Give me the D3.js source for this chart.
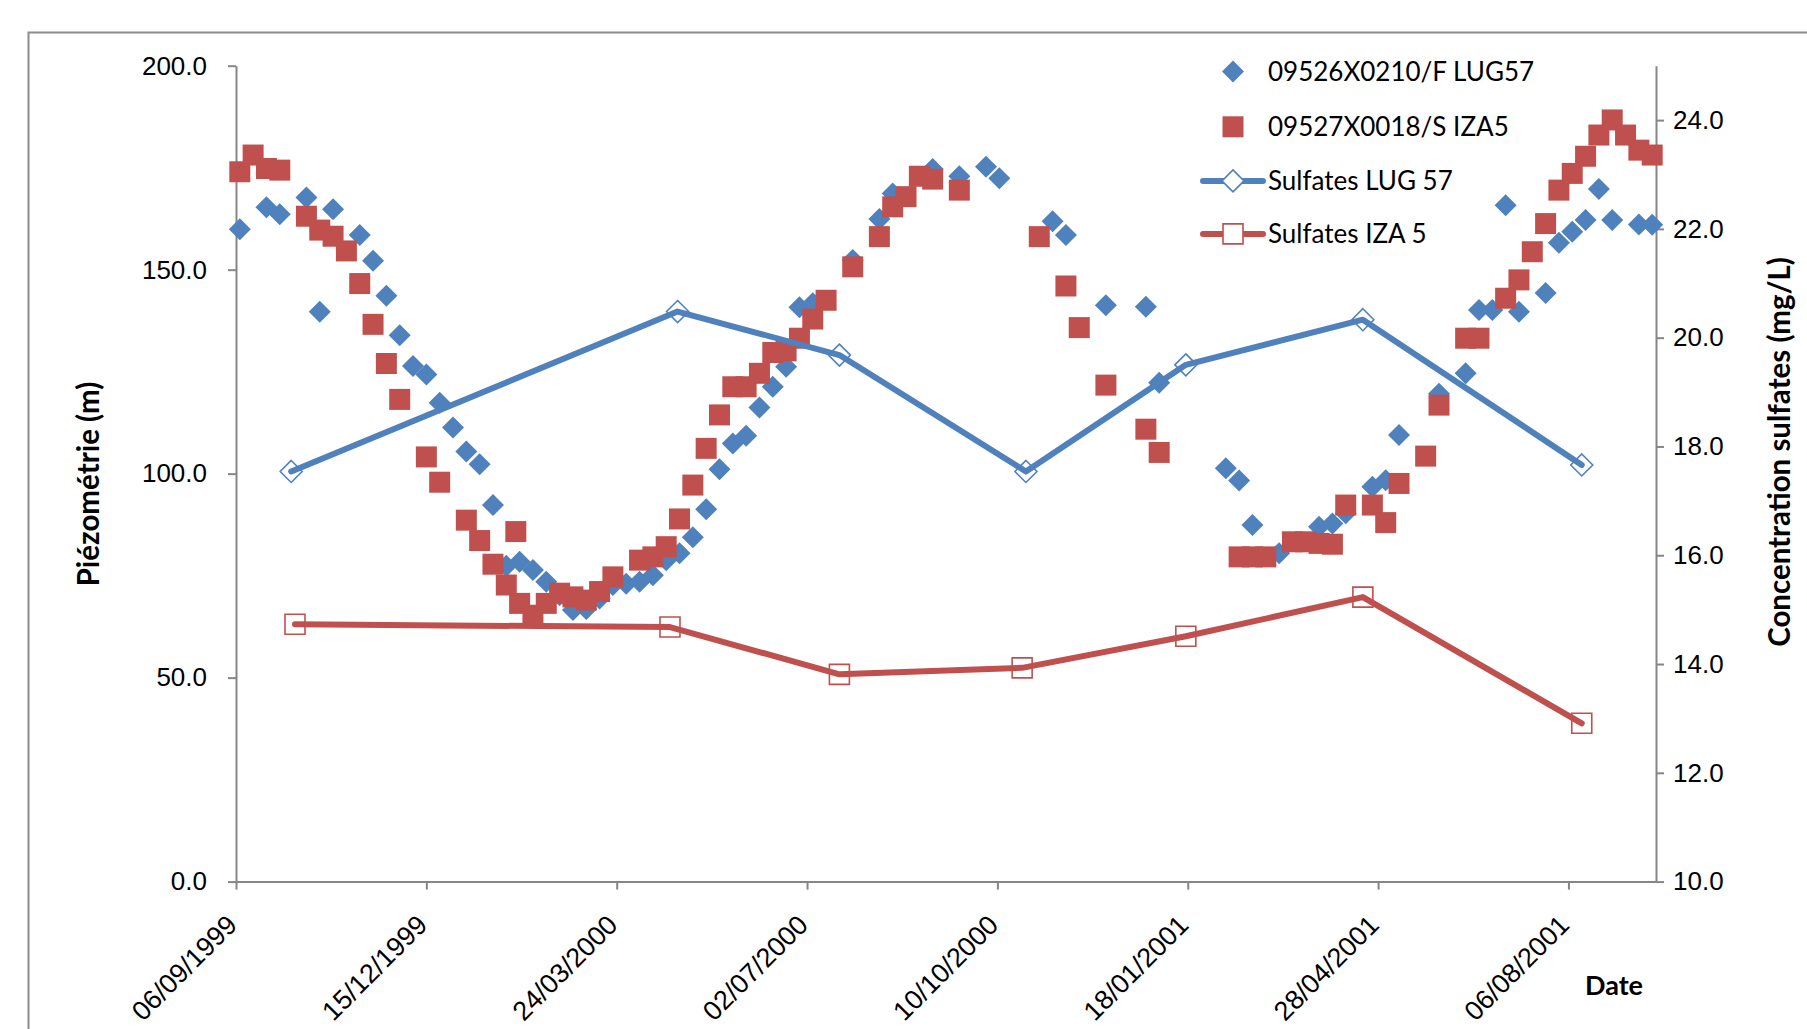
<!DOCTYPE html>
<html>
<head>
<meta charset="utf-8">
<script src="https://cdn.jsdelivr.net/npm/d3@7"></script>
<style>
  html, body { margin: 0; padding: 0; background: #ffffff; }
  svg { display: block; font-family: Lato, "Open Sans", "DejaVu Sans", sans-serif; }
</style>
</head>
<body>
<svg id="chart" width="1807" height="1029"></svg>
<script>
// ---- Weekly piezometric levels (m), well 09526X0210/F LUG57 ----
const lugDates = [
  "08/09/1999","22/09/1999","29/09/1999","13/10/1999","20/10/1999","27/10/1999",
  "10/11/1999","17/11/1999","24/11/1999","01/12/1999","08/12/1999","15/12/1999",
  "22/12/1999","29/12/1999","05/01/2000","12/01/2000","19/01/2000","26/01/2000",
  "02/02/2000","09/02/2000","16/02/2000","23/02/2000","01/03/2000","08/03/2000",
  "15/03/2000","22/03/2000","29/03/2000","05/04/2000","12/04/2000","19/04/2000",
  "26/04/2000","03/05/2000","10/05/2000","17/05/2000","24/05/2000","31/05/2000",
  "07/06/2000","14/06/2000","21/06/2000","28/06/2000","05/07/2000","26/07/2000",
  "09/08/2000","16/08/2000","06/09/2000","20/09/2000","04/10/2000","11/10/2000",
  "08/11/2000","15/11/2000","06/12/2000","27/12/2000","03/01/2001","07/02/2001",
  "14/02/2001","21/02/2001","07/03/2001","28/03/2001","04/04/2001","11/04/2001",
  "25/04/2001","02/05/2001","09/05/2001","30/05/2001","13/06/2001","20/06/2001",
  "27/06/2001","04/07/2001","11/07/2001","25/07/2001","01/08/2001","08/08/2001",
  "15/08/2001","22/08/2001","29/08/2001","12/09/2001","19/09/2001"
];
const lugLevels = [
  159.9, 165.3, 163.6, 167.7, 139.7, 164.8,
  158.5, 152.2, 143.6, 133.9, 126.4, 124.3,
  117.4, 111.3, 105.4, 102.3, 92.3, 77.4,
  78.4, 76.4, 73.5, 70.2, 66.6, 66.8,
  69.4, 72.7, 73.0, 73.5, 75.1, 78.8,
  80.5, 84.4, 91.3, 101.1, 107.4, 109.3,
  116.2, 121.3, 126.2, 140.8, 141.8, 152.4,
  162.4, 168.7, 174.7, 172.9, 175.2, 172.4,
  161.9, 158.5, 141.3, 140.9, 122.3, 101.3,
  98.3, 87.4, 80.5, 87.0, 87.8, 90.3,
  96.8, 98.4, 109.5, 119.6, 124.6, 140.1,
  140.1, 165.8, 139.7, 144.3, 156.6, 159.3,
  162.2, 169.8, 162.2, 161.1, 161.0
];

// ---- Weekly piezometric levels (m), well 09527X0018/S IZA5 ----
const izaDates = [
  "08/09/1999","15/09/1999","22/09/1999","29/09/1999","13/10/1999","20/10/1999",
  "27/10/1999","03/11/1999","10/11/1999","17/11/1999","24/11/1999","01/12/1999",
  "15/12/1999","22/12/1999","05/01/2000","12/01/2000","19/01/2000","26/01/2000",
  "31/01/2000","02/02/2000","09/02/2000","16/02/2000","23/02/2000","01/03/2000",
  "08/03/2000","15/03/2000","22/03/2000","05/04/2000","12/04/2000","19/04/2000",
  "26/04/2000","03/05/2000","10/05/2000","17/05/2000","24/05/2000","31/05/2000",
  "07/06/2000","14/06/2000","21/06/2000","28/06/2000","05/07/2000","12/07/2000",
  "26/07/2000","09/08/2000","16/08/2000","23/08/2000","30/08/2000","06/09/2000",
  "20/09/2000","01/11/2000","15/11/2000","22/11/2000","06/12/2000","27/12/2000",
  "03/01/2001","14/02/2001","21/02/2001","28/02/2001","14/03/2001","21/03/2001",
  "28/03/2001","04/04/2001","11/04/2001","25/04/2001","02/05/2001","09/05/2001",
  "23/05/2001","30/05/2001","13/06/2001","20/06/2001","04/07/2001","11/07/2001",
  "18/07/2001","25/07/2001","01/08/2001","08/08/2001","15/08/2001","22/08/2001",
  "29/08/2001","05/09/2001","12/09/2001","19/09/2001"
];
const izaLevels = [
  174.0, 178.1, 174.8, 174.4, 163.1, 159.7,
  158.2, 154.6, 146.6, 136.6, 127.0, 118.2,
  104.1, 97.9, 88.6, 83.6, 77.8, 72.7,
  85.8, 68.2, 65.3, 68.2, 70.7, 69.8,
  69.0, 71.1, 74.7, 78.8, 79.6, 82.1,
  88.9, 97.2, 106.2, 114.4, 121.3, 121.3,
  124.6, 129.7, 130.1, 133.2, 137.9, 142.5,
  150.7, 158.1, 165.4, 167.9, 172.9, 172.2,
  169.5, 158.1, 146.0, 135.8, 121.7, 110.9,
  105.2, 79.6, 79.6, 79.6, 83.3, 83.3,
  82.9, 82.7, 92.3, 92.3, 88.0, 97.6,
  104.3, 116.8, 133.2, 133.2, 143.0, 147.5,
  154.4, 161.3, 169.5, 173.6, 177.8, 183.0,
  186.7, 183.0, 179.3, 178.1
];

// ---- Sulfate concentrations (mg/L) ----
const sulfLugDates  = ["05/10/1999","25/04/2000","19/07/2000","25/10/2000","17/01/2001","20/04/2001","13/08/2001"];
const sulfLugValues = [17.54, 20.48, 19.68, 17.54, 19.50, 20.33, 17.66];
const sulfIzaDates  = ["07/10/1999","21/04/2000","19/07/2000","23/10/2000","17/01/2001","20/04/2001","13/08/2001"];
const sulfIzaValues = [14.73, 14.68, 13.81, 13.93, 14.51, 15.23, 12.91];

// ---- Axes ----
const xDomain     = ["06/09/1999", "21/09/2001"];
const xTickLabels = ["06/09/1999","15/12/1999","24/03/2000","02/07/2000","10/10/2000","18/01/2001","28/04/2001","06/08/2001"];
const yLeftDomain  = [0, 200];
const yLeftTicks   = [0, 50, 100, 150, 200];
const yRightDomain = [10, 25];
const yRightTicks  = [10, 12, 14, 16, 18, 20, 22, 24];

const seriesNames = ["09526X0210/F LUG57", "09527X0018/S IZA5", "Sulfates LUG 57", "Sulfates IZA 5"];
const axisTitles  = { left: "Piézométrie (m)", right: "Concentration sulfates (mg/L)", bottom: "Date" };

// ---- Drawing ----
const BLUE = "#4F81BD", RED = "#C0504D", AXIS = "#868686";
const FONT = 26;
const plot = { left: 236, right: 1656, top: 65.7, bottom: 881.6 };

const parse = d3.utcParse("%d/%m/%Y");
const x  = d3.scaleUtc().domain(xDomain.map(parse)).range([plot.left, plot.right]);
const yL = d3.scaleLinear().domain(yLeftDomain).range([plot.bottom, plot.top]);
const yR = d3.scaleLinear().domain(yRightDomain).range([plot.bottom, plot.top]);

const svg = d3.select("#chart");

// chart frame
svg.append("rect")
  .attr("x", 28.5).attr("y", 32.5)
  .attr("width", 1900).attr("height", 1100)
  .attr("fill", "none").attr("stroke", "#8c8c8c").attr("stroke-width", 2);

const fmt1 = d3.format(".1f");

function styleAxis(g) {
  g.select(".domain").attr("stroke", AXIS).attr("stroke-width", 2);
  g.selectAll(".tick line").attr("stroke", AXIS).attr("stroke-width", 2);
  g.selectAll(".tick text").attr("fill", "#000").style("font-size", FONT + "px");
}

// left axis
svg.append("g")
  .attr("transform", `translate(${plot.left},0)`)
  .call(d3.axisLeft(yL).tickValues(yLeftTicks).tickFormat(fmt1).tickSize(8).tickSizeOuter(0).tickPadding(21))
  .call(styleAxis);

// right axis
svg.append("g")
  .attr("transform", `translate(${plot.right},0)`)
  .call(d3.axisRight(yR).tickValues(yRightTicks).tickFormat(fmt1).tickSize(8).tickSizeOuter(0).tickPadding(9))
  .call(styleAxis);

// bottom axis, labels rotated 45°
const gx = svg.append("g")
  .attr("transform", `translate(0,${plot.bottom})`)
  .call(d3.axisBottom(x).tickValues(xTickLabels.map(parse)).tickFormat(d3.utcFormat("%d/%m/%Y")).tickSize(8).tickSizeOuter(0))
  .call(styleAxis);
gx.selectAll(".tick text")
  .attr("x", 0).attr("y", 0).attr("dy", 0)
  .attr("text-anchor", "end")
  .style("font-size", "27px")
  .attr("transform", "translate(2,45) rotate(-45)");

// axis titles
svg.append("text")
  .attr("transform", "translate(99,484) rotate(-90)")
  .attr("text-anchor", "middle")
  .style("font-size", "29.5px").style("font-weight", "bold")
  .text(axisTitles.left);
svg.append("text")
  .attr("transform", "translate(1790,452) rotate(-90)")
  .attr("text-anchor", "middle")
  .style("font-size", "29.5px").style("font-weight", "bold")
  .text(axisTitles.right);
svg.append("text")
  .attr("x", 1614).attr("y", 995)
  .attr("text-anchor", "middle")
  .style("font-size", "27px").style("font-weight", "bold")
  .text(axisTitles.bottom);

// marker shapes
const diamond = r => `M0,${-r}L${r},0L0,${r}L${-r},0Z`;
const square  = s => `M${-s/2},${-s/2}h${s}v${s}h${-s}Z`;

const lugData  = lugDates.map((d, i) => ({ date: parse(d), v: lugLevels[i] }));
const izaData  = izaDates.map((d, i) => ({ date: parse(d), v: izaLevels[i] }));
const sLugData = sulfLugDates.map((d, i) => ({ date: parse(d), v: sulfLugValues[i] }));
const sIzaData = sulfIzaDates.map((d, i) => ({ date: parse(d), v: sulfIzaValues[i] }));

// LUG57 piezometry
svg.append("g").selectAll("path").data(lugData).join("path")
  .attr("d", diamond(11))
  .attr("transform", d => `translate(${x(d.date)},${yL(d.v)})`)
  .attr("fill", BLUE);

// IZA5 piezometry
svg.append("g").selectAll("path").data(izaData).join("path")
  .attr("d", square(21))
  .attr("transform", d => `translate(${x(d.date)},${yL(d.v)})`)
  .attr("fill", RED);

// sulfate lines (secondary axis)
const lineR = d3.line().x(d => x(d.date)).y(d => yR(d.v));
function sulfateSeries(data, color, shape) {
  const g = svg.append("g");
  g.append("path").datum(data)
    .attr("d", lineR)
    .attr("fill", "none").attr("stroke", color).attr("stroke-width", 6)
    .attr("stroke-linejoin", "round").attr("stroke-linecap", "round");
  g.selectAll(".m").data(data).join("path")
    .attr("class", "m")
    .attr("d", shape)
    .attr("transform", d => `translate(${x(d.date)},${yR(d.v)})`)
    .attr("fill", "none").attr("stroke", color).attr("stroke-width", 1.6);
}
sulfateSeries(sLugData, BLUE, diamond(11));
sulfateSeries(sIzaData, RED, square(20));

// legend
const legendY = [71.4, 126.8, 180.9, 233.9];
const legendMarkerX = 1233, legendTextX = 1268;
const legend = svg.append("g");
seriesNames.forEach((name, i) => {
  const y = legendY[i];
  const row = legend.append("g").attr("transform", `translate(0,${y})`);
  if (i >= 2) {
    row.append("line")
      .attr("x1", 1203).attr("x2", 1263).attr("y1", 0).attr("y2", 0)
      .attr("stroke", i === 2 ? BLUE : RED).attr("stroke-width", 6).attr("stroke-linecap", "round");
  }
  const color = (i % 2 === 0) ? BLUE : RED;
  const shape = (i % 2 === 0) ? diamond(11) : square(i === 1 ? 21 : 20);
  row.append("path")
    .attr("d", shape)
    .attr("transform", `translate(${legendMarkerX},0)`)
    .attr("fill", i < 2 ? color : "#fff")
    .attr("stroke", i < 2 ? "none" : color).attr("stroke-width", 1.6);
  row.append("text")
    .attr("x", legendTextX).attr("y", 0).attr("dy", "0.35em")
    .style("font-size", FONT + "px")
    .text(name);
});
</script>
</body>
</html>
